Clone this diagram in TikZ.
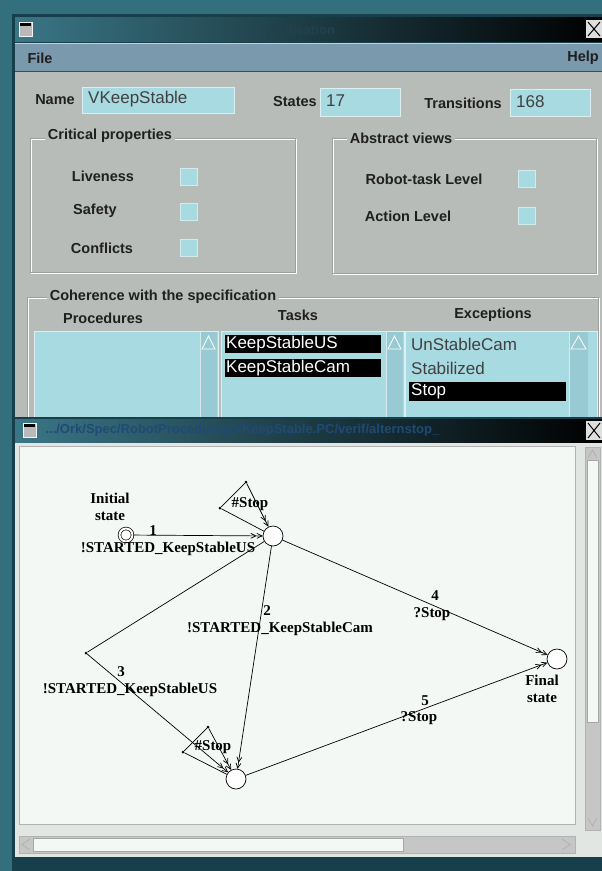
\documentclass[tikz,border=0pt]{standalone}
\usepackage{fontspec}
\setmainfont{Liberation Serif}
\setsansfont{Liberation Sans}
\usetikzlibrary{arrows.meta}
\definecolor{desk}{HTML}{336F7D}
\definecolor{deskdark}{HTML}{173F4B}
\definecolor{tbleft}{HTML}{3A7686}
\definecolor{menubar}{HTML}{7B99AD}
\definecolor{bodyc}{HTML}{B8BCB9}
\definecolor{fieldc}{HTML}{A8DAE2}
\definecolor{scrollc}{HTML}{98CAD3}
\definecolor{canvasc}{HTML}{F4F8F4}
\definecolor{lowc}{HTML}{E2E6E2}
\definecolor{titletxt}{HTML}{24404C}
\definecolor{pathtxt}{HTML}{1F4A78}
\tikzset{
  guilbl/.style={font=\sffamily\bfseries\fontsize{14.5}{16}\selectfont, text=black!88, inner sep=0pt},
  fieldtxt/.style={font=\sffamily\fontsize{17}{19}\selectfont, text=black!75, inner sep=0pt},
  seltxt/.style={font=\sffamily\fontsize{17}{19}\selectfont, text=white, inner sep=0pt},
  glbl/.style={font=\rmfamily\bfseries\fontsize{15}{16.5}\selectfont, inner sep=0pt},
  fieldbox/.style={fill=fieldc, draw=white!60!fieldc, line width=0.8pt},
  chkbox/.style={fill=fieldc, draw=white!50!fieldc, line width=0.6pt, minimum size=17pt, inner sep=0pt},
  framebox/.style={draw=gray!75, line width=0.7pt},
  statec/.style={circle, draw, fill=white, minimum size=20pt, inner sep=0pt, line width=0.7pt},
  edge/.style={line width=0.7pt},
  arr/.style={line width=0.7pt, -{Straight Barb[length=5pt,width=5pt]Straight Barb[length=5pt,width=5pt]}},
  dotpt/.style={circle, fill=black, inner sep=0pt, minimum size=3pt}
}
\begin{document}
\begin{tikzpicture}[x=1pt,y=-1pt]
\useasboundingbox (0,0) rectangle (602,871);
\fill[desk] (0,0) rectangle (602,871);
% ================= main window =================
\fill[deskdark] (12,14) rectangle (602,420);
\shade[left color=tbleft, right color=black] (15,17) rectangle (602,41);
\filldraw[fill=gray!55, draw=white!90!gray, line width=1pt] (19,22) rectangle (32,36);
\fill[black] (20,23) rectangle (31,26);
\node[font=\sffamily\bfseries\fontsize{13}{15}\selectfont, text=titletxt] (ttl) at (300,30) {Verification};
\fill[gray!25] (586,20) rectangle (602,38);
\draw[line width=1pt] (588,22) -- (600,36) (600,22) -- (588,36);
\coordinate (x1) at (593,29);
\fill[menubar] (15,43) rectangle (602,71);
\draw[white!55!menubar, line width=1pt] (15,43.5) -- (602,43.5);
\draw[black!50!menubar, line width=1pt] (15,71) -- (602,71);
\node[guilbl] (file) at (40,58) {File};
\node[guilbl] (help) at (583,58) {Help};
\fill[bodyc] (15,72) rectangle (602,420);
% name row
\node[guilbl] (namel) at (55,100) {Name};
\filldraw[fieldbox] (82,87) rectangle (234,113);
\node[fieldtxt, anchor=west] (namev) at (88,99) {VKeepStable};
\node[guilbl] (statesl) at (295,102) {States};
\filldraw[fieldbox] (320,88) rectangle (400,116);
\node[fieldtxt, anchor=west] (statesv) at (326,101) {17};
\node[guilbl] (transl) at (463,103) {Transitions};
\filldraw[fieldbox] (510,89) rectangle (590,116);
\node[fieldtxt, anchor=west] (transv) at (516,102) {168};
% critical properties
\draw[white] (31,139) rectangle (296,273);
\draw[framebox] (30,138) rectangle (295,272);
\node[guilbl, fill=bodyc, inner xsep=3pt] (critt) at (110,136) {Critical properties};
\node[guilbl] (live) at (103,176) {Liveness};
\node[chkbox] (clive) at (189,177) {};
\node[guilbl] (safe) at (95,211) {Safety};
\node[chkbox] (csafe) at (189,212) {};
\node[guilbl] (conf) at (102,248) {Conflicts};
\node[chkbox] (cconf) at (189,248) {};
% abstract views
\draw[white] (333,139) rectangle (597,274);
\draw[framebox] (332,138) rectangle (596,273);
\node[guilbl, fill=bodyc, inner xsep=3pt] (abst) at (401,138) {Abstract views};
\node[guilbl] (robot) at (424,179) {Robot-task Level};
\node[chkbox] (crobot) at (527,179) {};
\node[guilbl] (action) at (408,216) {Action Level};
\node[chkbox] (caction) at (527,216) {};
% coherence
\draw[white] (28,298) rectangle (599,430);
\draw[framebox] (27,297) rectangle (598,430);
\node[guilbl, fill=bodyc, inner xsep=3pt] (coh) at (163,297) {Coherence with the specification};
\node[guilbl] (procl) at (103,318) {Procedures};
\node[guilbl] (taskl) at (298,315) {Tasks};
\node[guilbl] (excl) at (493,315) {Exceptions};
% lists
\filldraw[fieldbox] (34,331) rectangle (218,425);
\fill[scrollc] (200,332) rectangle (217,425);
\draw[white!60!scrollc] (200,332) -- (200,425);
\draw[white, line width=0.8pt] (202,349) -- (208.5,336) -- (215,349) -- cycle;
\filldraw[fieldbox] (221,331) rectangle (404,425);
\fill[scrollc] (386,332) rectangle (403,425);
\draw[white!60!scrollc] (386,332) -- (386,425);
\draw[white, line width=0.8pt] (388,349) -- (394.5,336) -- (401,349) -- cycle;
\filldraw[fieldbox] (405,331) rectangle (597,425);
\fill[scrollc] (569,332) rectangle (588,425);
\draw[white!60!scrollc] (569,332) -- (569,425);
\draw[white, line width=0.8pt] (571,349) -- (578.5,336) -- (586,349) -- cycle;
\fill[black] (225,335) rectangle (381,353);
\node[seltxt, anchor=west] (t1) at (226,344) {KeepStableUS};
\fill[black] (225,359) rectangle (381,377);
\node[seltxt, anchor=west] (t2) at (226,368) {KeepStableCam};
\node[fieldtxt, anchor=west] (e1) at (411,344) {UnStableCam};
\node[fieldtxt, anchor=west] (e2) at (411,368) {Stabilized};
\fill[black] (409,382) rectangle (566,401);
\node[seltxt, anchor=west] (e3) at (411,391) {Stop};
% ================= second window =================
\fill[deskdark] (12,417) rectangle (602,871);
\shade[left color=tbleft, right color=black] (15,419) rectangle (602,442);
\filldraw[fill=gray!55, draw=white!90!gray, line width=1pt] (23,423) rectangle (36,437);
\fill[black] (24,424) rectangle (35,427);
\node[font=\sffamily\bfseries\fontsize{13}{15}\selectfont, text=pathtxt, anchor=west] (path) at (42,430) {.../Ork/Spec/RobotProcedures/VKeepStable.PC/verif/alternstop\_};
\fill[gray!25] (586,421) rectangle (602,440);
\draw[line width=1pt] (588,423) -- (600,438) (600,423) -- (588,438);
\fill[lowc] (15,443) rectangle (602,857);
\filldraw[fill=canvasc, draw=gray!60, line width=1pt] (19,446) rectangle (575,824);
% vertical scrollbar
\filldraw[fill=gray!45, draw=gray!60] (585,447) rectangle (600,830);
\filldraw[fill=canvasc, draw=gray!70] (587,460) rectangle (598,722);
\draw[gray!70] (588,458) -- (592.5,450) -- (597,458);
\draw[gray!70] (588,818) -- (592.5,826) -- (597,818);
% horizontal scrollbar
\filldraw[fill=gray!45, draw=gray!60] (19,836) rectangle (575,853);
\filldraw[fill=canvasc, draw=gray!70] (33,838) rectangle (403,851);
\draw[gray!70] (30,839) -- (22,844.5) -- (30,850);
\draw[gray!70] (562,839) -- (570,844.5) -- (562,850);
\fill[deskdark] (12,857) rectangle (602,871);
% ================= graph =================
\node[statec, double, double distance=2pt, minimum size=13pt] (init) at (126,535) {};
\node[statec] (A) at (273,536) {};
\node[statec] (B) at (236,779) {};
\node[statec] (F) at (557,659) {};
\node[dotpt] (a1) at (246,482) {};
\node[dotpt] (a2) at (220,508) {};
\node[dotpt] (b1) at (208,727) {};
\node[dotpt] (b2) at (183,752) {};
\node[dotpt] (c3) at (86,653) {};
\node[glbl, align=center] (initl) at (110,507) {Initial\\state};
\node[glbl, align=center] (finl) at (542,689) {Final\\state};
% edges
\draw[arr] (init) -- (A);
\draw[edge] (A) -- (a2) -- (a1);
\draw[arr] (a1) -- (A);
\draw[arr] (A) -- (B);
\draw[edge] (A) -- (c3);
\draw[arr] (c3) -- (B);
\draw[edge] (B) -- (b2) -- (b1);
\draw[arr] (b1) -- (B);
\draw[arr] (A) -- (F);
\draw[arr] (B) -- (F);
% edge labels
\node[glbl] (l1n) at (153,531) {1};
\node[glbl] (l1) at (168,549) {!STARTED\_KeepStableUS};
\node[glbl] (lsa) at (250,504) {\#Stop};
\node[glbl] (l2n) at (267,611) {2};
\node[glbl] (l2) at (280,629) {!STARTED\_KeepStableCam};
\node[glbl] (l3n) at (121,672) {3};
\node[glbl] (l3) at (130,690) {!STARTED\_KeepStableUS};
\node[glbl] (lsb) at (213,747) {\#Stop};
\node[glbl] (l4n) at (435,596) {4};
\node[glbl] (l4) at (432,614) {?Stop};
\node[glbl] (l5n) at (425,701) {5};
\node[glbl] (l5) at (419,718) {?Stop};
\end{tikzpicture}
\end{document}
